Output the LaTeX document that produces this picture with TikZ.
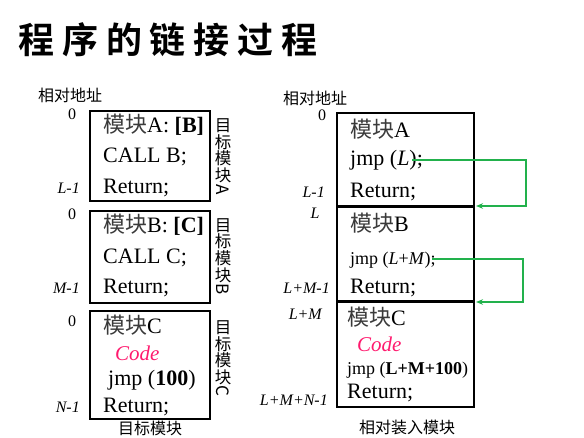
\documentclass[tikz,border=0pt]{standalone}
\usepackage{fontspec}
\usepackage{graphicx}
\setmainfont{Liberation Serif}
\newfontfamily\cjk{Noto Sans CJK SC}
\newfontfamily\cjktitle[LetterSpace=22]{Noto Sans CJK SC Bold}
\usetikzlibrary{arrows.meta}
\definecolor{mkgrey}{HTML}{3A3A3A}
\definecolor{codepink}{HTML}{FF1A6E}
\definecolor{lnkgreen}{HTML}{22B14C}
\newcommand{\mk}{{\cjk\color{mkgrey}模块}}
\newcommand{\vlet}[1]{\raisebox{6pt}{\rotatebox[origin=c]{-90}{\fontsize{17}{17}\selectfont #1}}}
\begin{document}
\begin{tikzpicture}[x=1pt,y=-1pt,
  txt/.style={inner sep=0pt,anchor=west,font=\fontsize{22}{22}\selectfont},
  stxt/.style={inner sep=0pt,anchor=west,font=\fontsize{18}{18}\selectfont},
  codetxt/.style={inner sep=0pt,anchor=west,font=\fontsize{21}{21}\selectfont\itshape,text=codepink},
  addr/.style={inner sep=0pt,font=\fontsize{16}{16}\selectfont\itshape},
  cjklbl/.style={inner sep=0pt,font=\fontsize{16}{16}\selectfont\cjk},
  vlbl/.style={inner sep=0pt,align=center,font=\fontsize{16.5}{16.8}\selectfont\cjk},
  modbox/.style={draw=black,line width=2pt},
  sep/.style={draw=black,line width=3pt},
  garrow/.style={draw=lnkgreen,line width=1.3pt,-{Stealth[length=7pt,width=5.5pt]}}
]
\useasboundingbox (0,0) rectangle (584,438);

% title
\node[inner sep=0pt,font=\fontsize{36}{36}\selectfont\cjktitle] (title) at (168,40) {程序的链接过程};

% ---------- left side ----------
\node[cjklbl] (rel1) at (70,95) {相对地址};

\draw[modbox] (90,111) rectangle (210,201);
\node[addr] (a0) at (72,114) {\upshape 0};
\node[addr,anchor=east] (aL1) at (80,188) {L-1};
\node[txt] (ta1) at (103,125) {\mk A: \textbf{[B]}};
\node[txt] (ta2) at (103,157) {CALL B;};
\node[txt] (ta3) at (103,188) {Return;};
\node[vlbl] (va) at (223,160) {目\\标\\模\\块\\\vlet{A}};

\draw[modbox] (90,211) rectangle (210,303);
\node[addr] (b0) at (72,214) {\upshape 0};
\node[addr,anchor=east] (bM1) at (80,288) {M-1};
\node[txt] (tb1) at (103,225) {\mk B: \textbf{[C]}};
\node[txt] (tb2) at (103,258) {CALL C;};
\node[txt] (tb3) at (103,288) {Return;};
\node[vlbl] (vb) at (223,260) {目\\标\\模\\块\\\vlet{B}};

\draw[modbox] (90,311) rectangle (210,419);
\node[addr] (c0) at (72,321) {\upshape 0};
\node[addr,anchor=east] (cN1) at (80,407) {N-1};
\node[txt] (tc1) at (103,325) {\mk C};
\node[codetxt] (tc2) at (115,353) {Code};
\node[txt] (tc3) at (108,380) {jmp (\textbf{100})};
\node[txt] (tc4) at (103,407) {Return;};
\node[vlbl] (vc) at (223,362) {目\\标\\模\\块\\\vlet{C}};

\node[cjklbl] (lcap) at (150,428) {目标模块};

% ---------- right side ----------
\node[cjklbl] (rel2) at (315,98) {相对地址};
\draw[draw=black,line width=1.6pt] (337,113) rectangle (474,407);
\draw[sep] (337,207) -- (474,207);
\draw[sep] (337,302) -- (474,302);

\node[addr] (r0) at (322,115) {\upshape 0};
\node[addr,anchor=east] (rL1) at (325,192) {L-1};
\node[addr] (rL) at (315,213) {L};
\node[addr,anchor=east] (rLM1) at (330,288) {L+M-1};
\node[addr,anchor=east] (rLM) at (322,314) {L+M};
\node[addr,anchor=east] (rLMN1) at (328,400) {L+M+N-1};

\node[txt] (ra1) at (350,129) {\mk A};
\node[txt] (ra2) at (350,160) {jmp (\textit{L});};
\node[txt] (ra3) at (350,192) {Return;};

\node[txt] (rb1) at (350,223) {\mk B};
\node[stxt] (rb2) at (350,260) {jmp (\textit{L}+\textit{M});};
\node[txt] (rb3) at (350,288) {Return;};

\node[txt] (rc1) at (347,317) {\mk C};
\node[codetxt] (rc2) at (357,344) {Code};
\node[stxt] (rc3) at (347,370) {jmp (\textbf{L+M+100})};
\node[txt] (rc4) at (347,393) {Return;};

\node[cjklbl] (rcap) at (407,427) {相对装入模块};

% green link arrows
\coordinate (g1s) at (412,160);
\coordinate (g1c) at (526,206);
\coordinate (g1e) at (476,206);
\draw[garrow] (g1s) -| (g1c) -- (g1e);
\coordinate (g2s) at (432,259);
\coordinate (g2c) at (523,302);
\coordinate (g2e) at (476,302);
\draw[garrow] (g2s) -| (g2c) -- (g2e);
\end{tikzpicture}
\end{document}
